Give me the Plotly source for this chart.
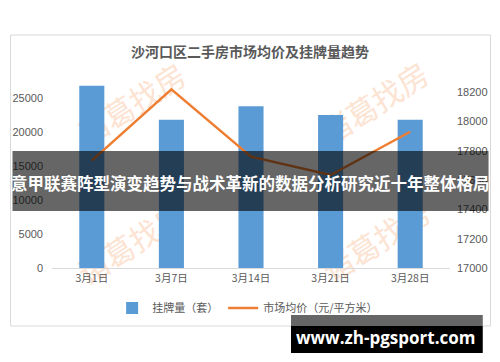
import base64
import plotly.graph_objects as go

categories = ["3月1日", "3月7日", "3月14日", "3月21日", "3月28日"]
listings = [26800, 21800, 23800, 22500, 21800]
avg_price = [17732, 18218, 17759, 17634, 17929]
left_ticks = [0, 5000, 10000, 15000, 20000, 25000]
right_ticks = [17000, 17200, 17400, 17600, 17800, 18000, 18200]

W, H = 500, 362
L, R, T, B = 44, 43, 70, 94
PW, PH = W - L - R, H - T - B


def px(x):
    return (x - L) / PW


def py(y):
    return (H - B - y) / PH


fig = go.Figure()
fig.add_trace(go.Bar(
    x=categories, y=listings, name="挂牌量（套）",
    marker=dict(color="#5B9BD5", line=dict(width=0)),
    yaxis="y",
))
fig.add_trace(go.Scatter(
    x=categories, y=avg_price, name="市场均价（元/平方米）",
    mode="lines", line=dict(color="#ED7D31", width=2.5),
    yaxis="y2",
))

tickfont = dict(family="Liberation Sans, Arial, sans-serif", size=11, color="#595959")

fig.update_layout(
    width=W, height=H,
    margin=dict(l=L, r=R, t=T, b=B),
    paper_bgcolor="white", plot_bgcolor="rgba(0,0,0,0)",
    bargap=0.685,
    showlegend=True,
    legend=dict(
        orientation="h", x=px(247), xanchor="center", y=py(308), yanchor="middle",
        font=dict(family="Noto Sans CJK SC", size=11, color="#595959"),
        bgcolor="rgba(0,0,0,0)", itemwidth=30,
    ),
    xaxis=dict(
        showgrid=False, showline=True, linecolor="#d9d9d9", linewidth=1,
        ticks="", tickfont=dict(family="Noto Sans CJK SC", size=10.5, color="#595959"),
        range=[-0.5, 4.5],
    ),
    yaxis=dict(
        range=[0, PH / 34 * 5000], tickvals=left_ticks,
        ticktext=[str(v) for v in left_ticks], showgrid=False,
        zeroline=False, showline=False, ticks="", tickfont=tickfont,
        ticklabelstandoff=8,
    ),
    yaxis2=dict(
        range=[17000, 17000 + PH / 29.33 * 200], tickvals=right_ticks,
        ticktext=[str(v) for v in right_ticks],
        overlaying="y", side="right", showgrid=False, zeroline=False,
        showline=False, ticks="", tickfont=tickfont, ticklabelstandoff=6,
    ),
    title=dict(
        text="<b>沙河口区二手房市场均价及挂牌量趋势</b>",
        x=0.5, xref="container", xanchor="center",
        y=1 - 52 / H, yref="container", yanchor="middle",
        font=dict(family="Noto Sans CJK SC", size=14, color="#595959"),
    ),
)

# watermark as a background SVG image (behind bars)
wm_parts = []
for cx, cy in [(126, 103), (378, 102), (126, 242), (380, 240)]:
    wm_parts.append(
        f'<text x="{cx}" y="{cy}" text-anchor="middle" dominant-baseline="central" '
        f'transform="rotate(-32 {cx} {cy})">诸葛找房</text>'
    )
svg = (
    f'<svg xmlns="http://www.w3.org/2000/svg" width="{W}" height="{H}" viewBox="0 0 {W} {H}">'
    f'<g font-family="Noto Sans CJK SC" font-size="31" fill="#FCE3D2">'
    + "".join(wm_parts) + "</g></svg>"
)
src = "data:image/svg+xml;base64," + base64.b64encode(svg.encode("utf-8")).decode("ascii")
fig.add_layout_image(dict(
    source=src, xref="paper", yref="paper", x=px(0), y=py(0),
    sizex=W / PW, sizey=H / PH, xanchor="left", yanchor="top",
    sizing="stretch", layer="below", opacity=1,
))

shapes = [
    dict(type="rect", xref="paper", yref="paper", x0=px(1), x1=px(499), y0=py(326), y1=py(35),
         line=dict(color="#d9d9d9", width=1), fillcolor="rgba(0,0,0,0)", layer="below"),
    dict(type="rect", xref="paper", yref="paper", x0=px(3), x1=px(497), y0=py(211), y1=py(151),
         line=dict(width=0), fillcolor="rgba(0,0,0,0.6)", layer="above"),
    dict(type="rect", xref="paper", yref="paper", x0=px(292), x1=px(491), y0=py(326), y1=py(315),
         line=dict(width=0), fillcolor="#666666", layer="above"),
    dict(type="rect", xref="paper", yref="paper", x0=px(292), x1=px(491), y0=py(353), y1=py(326),
         line=dict(width=0), fillcolor="#000000", layer="above"),
]
fig.update_layout(shapes=shapes)

annotations = [
    dict(
        text="<b>意甲联赛阵型演变趋势与战术革新的数据分析研究近十年整体格局</b>",
        xref="paper", yref="paper", x=px(250), y=py(183), showarrow=False,
        xanchor="center", yanchor="middle",
        font=dict(family="Noto Sans CJK SC", size=16.5, color="white"),
    ),
    dict(
        text="<b>www.zh-pgsport.com</b>",
        xref="paper", yref="paper", x=px(390), y=py(337), showarrow=False,
        xanchor="center", yanchor="middle",
        font=dict(family="Open Sans", size=17, color="white"),
    ),
]
fig.update_layout(annotations=annotations)

fig.write_html("out.html")
